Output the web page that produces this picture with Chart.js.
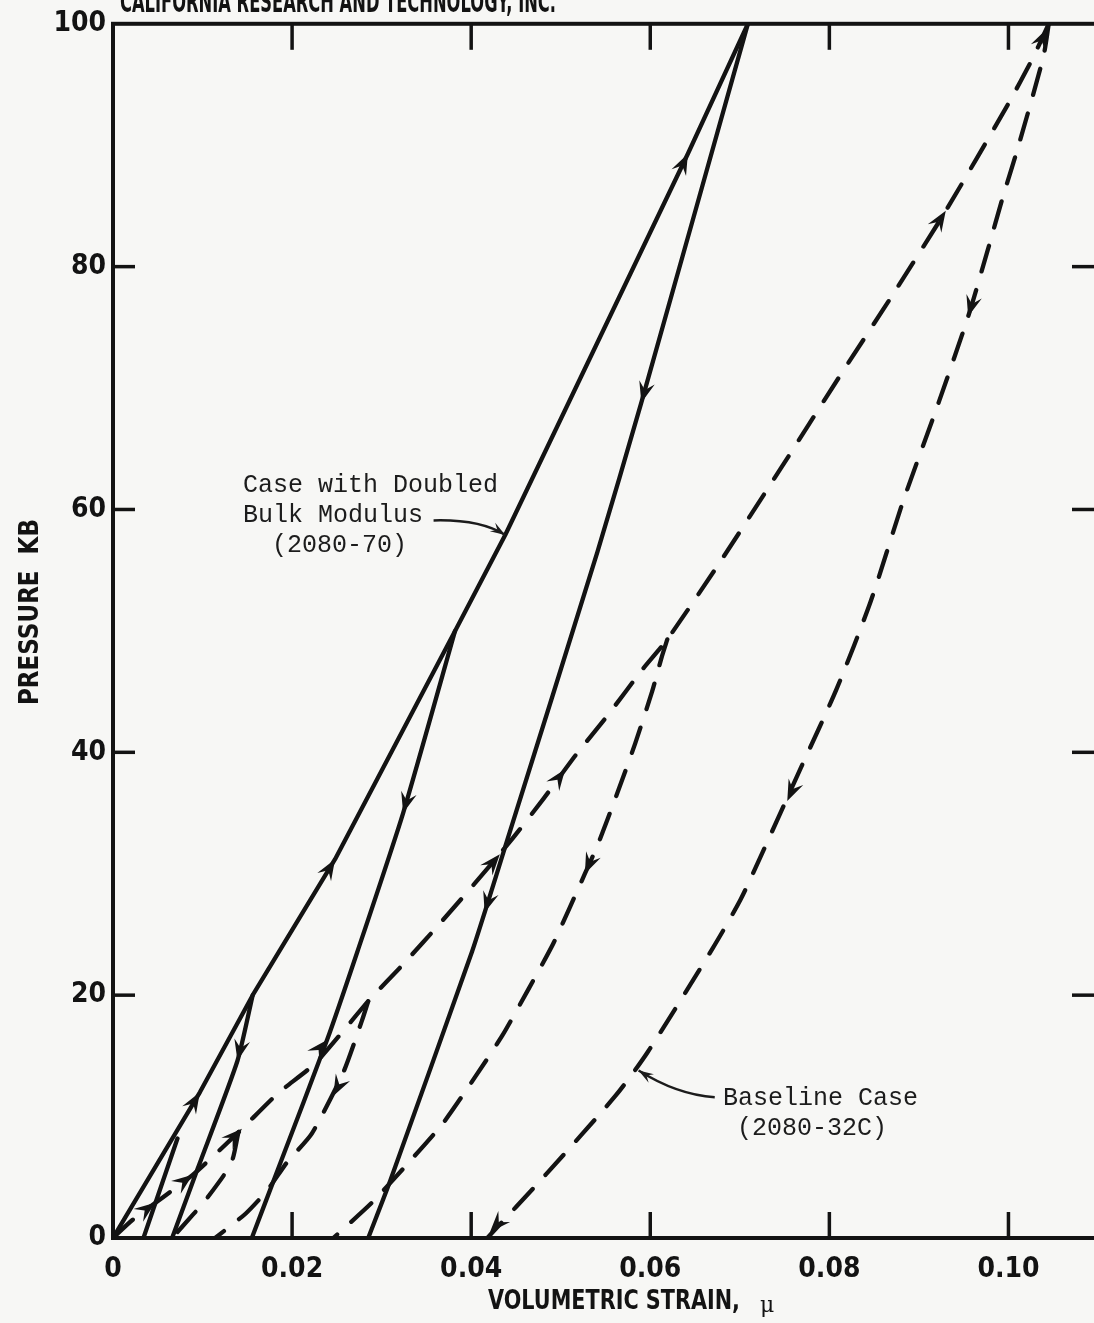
<!DOCTYPE html>
<html><head><meta charset="utf-8">
<script src="https://cdn.jsdelivr.net/npm/chart.js@4.4.1/dist/chart.umd.min.js"></script>
<style>
html,body{margin:0;padding:0;background:#f7f7f5;overflow:hidden;}
#wrap{width:1110px;height:1323px;position:relative;}
</style></head><body>
<div id="wrap"><canvas id="c" width="1110" height="1323"></canvas></div>
<script>
// ---- axis ticks ----
const xTickValues = [0, 0.02, 0.04, 0.06, 0.08, 0.10];
const xTickLabels = ['0', '0.02', '0.04', '0.06', '0.08', '0.10'];
const yTickValues = [0, 20, 40, 60, 80, 100];
const yTickLabels = ['0', '20', '40', '60', '80', '100'];
const innerXTicks = [0.02, 0.04, 0.06, 0.08, 0.10];
const innerYTicks = [20, 40, 60, 80];

// ---- Case with Doubled Bulk Modulus (2080-70), solid ----
const dbmLoadStrain = [0, 0.0097, 0.0156, 0.0248, 0.0382, 0.0438, 0.0642, 0.0709];
const dbmLoadP      = [0, 12.0, 20, 31.2, 50, 57.9, 89.3, 100];
const dbmUnload8Strain = [0.0072, 0.0034];
const dbmUnload8P      = [8.2, 0];
const dbmUnload20Strain = [0.0156, 0.0139, 0.0095, 0.0066];
const dbmUnload20P      = [20, 14.6, 5.8, 0];
const dbmUnload50Strain = [0.0382, 0.0324, 0.0273, 0.0239, 0.0187, 0.0155];
const dbmUnload50P      = [50, 35, 23.6, 16.3, 6.2, 0];
const dbmUnload100Strain = [0.0709, 0.0590, 0.0541, 0.0440, 0.0415, 0.0401, 0.0310, 0.0285];
const dbmUnload100P      = [100, 68.8, 56.5, 32.7, 26.8, 23.6, 4.8, 0];

// ---- Baseline Case (2080-32C), dashed ----
const baseLoadStrain = [0, 0.0022, 0.0089, 0.0140, 0.0184, 0.0226, 0.0285, 0.0326, 0.0365, 0.0404, 0.0444, 0.0480, 0.0516, 0.0553, 0.0591, 0.0619, 0.0680, 0.0745, 0.0810, 0.0870, 0.0930, 0.0999, 0.1028, 0.1045];
const baseLoadP      = [0, 1.5, 5.2, 8.7, 11.9, 14.4, 19.5, 22.7, 25.9, 29.2, 32.7, 36.1, 39.7, 43.1, 46.8, 49.3, 55.9, 63.3, 70.8, 77.6, 84.6, 93.3, 97.3, 100];
const baseUnload9Strain = [0.0140, 0.0134, 0.0125, 0.0101, 0.0089, 0.0066];
const baseUnload9P      = [8.7, 6.6, 5.3, 2.9, 1.9, 0];
const baseUnload20Strain = [0.0285, 0.0278, 0.0257, 0.0222, 0.0194, 0.0172, 0.0148, 0.0114];
const baseUnload20P      = [19.5, 17.9, 13.6, 8.6, 6.2, 3.9, 2.0, 0];
const baseUnload50Strain = [0.0619, 0.0613, 0.0602, 0.0583, 0.0563, 0.0542, 0.0527, 0.0492, 0.0464, 0.0435, 0.0402, 0.0368, 0.0330, 0.0289, 0.0246];
const baseUnload50P      = [49.3, 47.9, 45, 40.7, 36.6, 32.5, 30, 24.3, 20.5, 16.7, 13, 9.4, 6.2, 2.9, 0];
const baseUnload100Strain = [0.1045, 0.1039, 0.1011, 0.0994, 0.0977, 0.0955, 0.0922, 0.0882, 0.0846, 0.0808, 0.0768, 0.0725, 0.0701, 0.0670, 0.0597, 0.0561, 0.0483, 0.0418];
const baseUnload100P      = [100, 97.3, 89.9, 85.8, 81.4, 75.9, 68.8, 60.6, 52.4, 45.2, 38.7, 31.7, 27.9, 23.9, 15.3, 11.7, 5.2, 0];

// ---- arrowheads: [series, strain, pressure] (direction follows series order) ----
const arrowSeries = ['dbmLoad','dbmUnload20','dbmLoad','dbmUnload50','dbmLoad','dbmUnload100','dbmUnload100',
  'baseLoad','baseLoad','baseLoad','baseLoad','baseUnload20','baseLoad','baseLoad','baseUnload50','baseLoad','baseUnload100','baseUnload100','baseUnload100','baseLoad'];
const arrowStrain = [0.0097, 0.0139, 0.0248, 0.0324, 0.0642, 0.0590, 0.0415,
  0.0047, 0.0089, 0.0144, 0.0239, 0.0246, 0.0432, 0.0505, 0.0527, 0.0930, 0.0955, 0.0753, 0.0421, 0.1043];
const arrowP = [12.0, 14.6, 31.2, 35, 89.3, 68.8, 26.8,
  2.9, 5.2, 9.0, 16.3, 11.7, 31.6, 38.6, 30, 84.6, 75.9, 36, 0.5, 99.6];

const ink = '#131313';
const series = {
  dbmLoad: [dbmLoadStrain, dbmLoadP, false, 0],
  dbmUnload8: [dbmUnload8Strain, dbmUnload8P, false, 0],
  dbmUnload20: [dbmUnload20Strain, dbmUnload20P, false, 0.2],
  dbmUnload50: [dbmUnload50Strain, dbmUnload50P, false, 0.2],
  dbmUnload100: [dbmUnload100Strain, dbmUnload100P, false, 0.2],
  baseLoad: [baseLoadStrain, baseLoadP, true, 0.2],
  baseUnload9: [baseUnload9Strain, baseUnload9P, true, 0.2],
  baseUnload20: [baseUnload20Strain, baseUnload20P, true, 0.2],
  baseUnload50: [baseUnload50Strain, baseUnload50P, true, 0.2],
  baseUnload100: [baseUnload100Strain, baseUnload100P, true, 0.25]
};
const datasets = Object.keys(series).map(k => {
  const [xs, ys, dashed, t] = series[k];
  return {
    label: k,
    data: xs.map((x, i) => ({x, y: ys[i]})),
    showLine: true, borderColor: ink, borderWidth: 4.3,
    borderDash: dashed ? [27, 19] : [], borderCapStyle: 'round', borderJoinStyle: 'round',
    pointRadius: 0, fill: false, tension: t
  };
});

function arrowHead(ctx, x, y, ang, len, half) {
  ctx.save();
  ctx.translate(x, y); ctx.rotate(ang);
  ctx.beginPath();
  ctx.moveTo(0, 0);
  ctx.lineTo(-len, half);
  ctx.lineTo(-len * 0.62, 0);
  ctx.lineTo(-len, -half);
  ctx.closePath();
  ctx.fill();
  ctx.restore();
}
function fitText(ctx, text, x, y, width, font) {
  ctx.font = font;
  const w = ctx.measureText(text).width;
  ctx.save(); ctx.translate(x, y); ctx.scale(width / w, 1);
  ctx.textAlign = 'left'; ctx.fillText(text, 0, 0); ctx.restore();
}

const decor = {
  id: 'decor',
  beforeDraw(chart) {
    const ctx = chart.ctx; ctx.save(); ctx.fillStyle = '#f7f7f5';
    ctx.fillRect(0, 0, chart.width, chart.height); ctx.restore();
  },
  afterDatasetsDraw(chart) {
    const ctx = chart.ctx, a = chart.chartArea, xs = chart.scales.x, ys = chart.scales.y;
    const P = (sx, sy) => [xs.getPixelForValue(sx), ys.getPixelForValue(sy)];
    ctx.save();
    ctx.strokeStyle = ink; ctx.fillStyle = ink;
    ctx.lineWidth = 4; ctx.lineCap = 'butt';
    ctx.strokeRect(a.left, a.top, a.right - a.left, a.bottom - a.top);
    const seg = (x1, y1, x2, y2) => { ctx.beginPath(); ctx.moveTo(x1, y1); ctx.lineTo(x2, y2); ctx.stroke(); };
    ctx.lineWidth = 3.5;
    innerXTicks.forEach(v => { const x = xs.getPixelForValue(v); seg(x, a.top, x, a.top + 26); seg(x, a.bottom, x, a.bottom - 26); });
    innerYTicks.forEach(v => { const y = ys.getPixelForValue(v); seg(a.left, y, a.left + 22, y); seg(a.right, y, a.right - 26, y); });

    // arrowheads
    arrowSeries.forEach((name, i) => {
      const [sx, sy] = series[name];
      const pts = sx.map((v, j) => P(v, sy[j]));
      const [tx, ty] = P(arrowStrain[i], arrowP[i]);
      let best = 1e9, dir = [0, -1];
      for (let j = 0; j < pts.length - 1; j++) {
        const [x1, y1] = pts[j], [x2, y2] = pts[j + 1];
        const dx = x2 - x1, dy = y2 - y1, L2 = dx * dx + dy * dy || 1;
        let t = ((tx - x1) * dx + (ty - y1) * dy) / L2; t = Math.max(0, Math.min(1, t));
        const d = Math.hypot(x1 + t * dx - tx, y1 + t * dy - ty);
        if (d < best) { best = d; dir = [dx, dy]; }
      }
      arrowHead(ctx, tx, ty, Math.atan2(dir[1], dir[0]), 21, 8);
    });

    // annotation text
    ctx.fillStyle = '#1c1c1c';
    ctx.textBaseline = 'middle';
    ctx.font = "25px 'Liberation Mono', 'DejaVu Sans Mono', monospace";
    ctx.textAlign = 'left';
    ctx.fillText('Case with Doubled', 243, 485);
    ctx.fillText('Bulk Modulus', 243, 515);
    ctx.fillText('(2080-70)', 272, 545);
    ctx.fillText('Baseline Case', 723, 1098);
    ctx.fillText('(2080-32C)', 737, 1128);

    // leader lines (data coordinates)
    ctx.lineWidth = 2.5; ctx.strokeStyle = '#1c1c1c';
    const l1 = [P(0.0358, 59.1), P(0.0410, 59.2), P(0.0438, 57.9)];
    ctx.beginPath(); ctx.moveTo(...l1[0]); ctx.quadraticCurveTo(...l1[1], ...l1[2]); ctx.stroke();
    arrowHead(ctx, l1[2][0], l1[2][1], Math.atan2(l1[2][1] - l1[1][1], l1[2][0] - l1[1][0]), 15, 5);
    const l2 = [P(0.0672, 11.6), P(0.0630, 11.8), P(0.0587, 13.8)];
    ctx.beginPath(); ctx.moveTo(...l2[0]); ctx.quadraticCurveTo(...l2[1], ...l2[2]); ctx.stroke();
    arrowHead(ctx, l2[2][0], l2[2][1], Math.atan2(l2[2][1] - l2[1][1], l2[2][0] - l2[1][0]), 15, 5);

    // axis titles
    ctx.fillStyle = ink;
    ctx.textBaseline = 'middle';
    fitText(ctx, 'VOLUMETRIC STRAIN,', 488, 1302, 252, "bold 26px 'DejaVu Sans', sans-serif");
    ctx.font = "22px 'DejaVu Serif', serif"; ctx.textAlign = 'left';
    ctx.fillText('\u03bc', 760, 1306);
    ctx.save(); ctx.translate(31, 705); ctx.rotate(-Math.PI / 2);
    fitText(ctx, 'PRESSURE  KB', 0, 0, 186, "bold 26px 'DejaVu Sans', sans-serif");
    ctx.restore();
    // header (cut off at the page top)
    ctx.textBaseline = 'alphabetic';
    fitText(ctx, 'CALIFORNIA RESEARCH AND TECHNOLOGY, INC.', 120, 12, 436, "bold 30px 'DejaVu Sans', sans-serif");
    ctx.restore();
  }
};

new Chart(document.getElementById('c'), {
  type: 'scatter',
  data: { datasets },
  options: {
    responsive: false, animation: false, devicePixelRatio: 1,
    layout: { padding: { top: 20, right: 12, left: 0, bottom: 0 } },
    plugins: { legend: { display: false }, tooltip: { enabled: false } },
    scales: {
      x: {
        type: 'linear', min: 0, max: 0.11, position: 'bottom',
        grid: { display: false, drawTicks: false }, border: { display: false },
        afterBuildTicks: s => { s.ticks = xTickValues.map(v => ({ value: v })); },
        afterFit: s => { s.height = 85; },
        ticks: { padding: 15, color: ink, maxRotation: 0, autoSkip: false,
          font: { family: "'DejaVu Sans Condensed', 'DejaVu Sans', sans-serif", weight: 'bold', size: 28 },
          callback: (v, i) => xTickLabels[i] }
      },
      y: {
        type: 'linear', min: 0, max: 100,
        grid: { display: false, drawTicks: false }, border: { display: false },
        afterBuildTicks: s => { s.ticks = yTickValues.map(v => ({ value: v })); },
        afterFit: s => { s.width = 113; },
        ticks: { padding: 7, color: ink, autoSkip: false,
          font: { family: "'DejaVu Sans Condensed', 'DejaVu Sans', sans-serif", weight: 'bold', size: 28 },
          callback: (v, i) => yTickLabels[i] }
      }
    }
  },
  plugins: [decor]
});
</script>
</body></html>
